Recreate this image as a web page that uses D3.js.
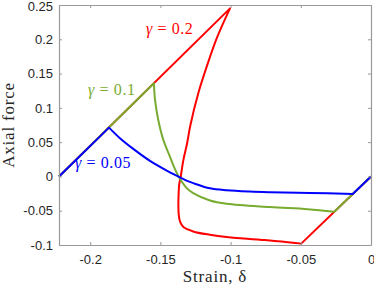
<!DOCTYPE html>
<html>
<head>
<meta charset="utf-8">
<script src="https://cdn.jsdelivr.net/npm/d3@7"></script>
<style>
body { margin: 0; background: #fff; }
svg { display: block; }
</style>
</head>
<body>
<svg id="chart" width="374" height="288"></svg>
<script>
// ---- data ----
const xTicks = [-0.2, -0.15, -0.1, -0.05, 0];
const xTickLabels = ["-0.2", "-0.15", "-0.1", "-0.05", "0"];
const yTicks = [-0.1, -0.05, 0, 0.05, 0.1, 0.15, 0.2, 0.25];
const yTickLabels = ["-0.1", "-0.05", "0", "0.05", "0.1", "0.15", "0.2", "0.25"];

const gammaNames = ["γ = 0.2", "γ = 0.1", "γ = 0.05"];

// each path: (0,0) -> elastic junction -> softening curve -> upper line junction -> back to zero force
const redStrain = [0, -0.0497, -0.0719, -0.0791, -0.1028, -0.1147, -0.1266, -0.1336, -0.1360, -0.1369, -0.1372, -0.1370, -0.1366, -0.1355, -0.1336, -0.1310, -0.1287, -0.1230, -0.1170, -0.1099, -0.1004, -0.2222];
const redForce  = [0, -0.0980, -0.0934, -0.0923, -0.0884, -0.0851, -0.0802, -0.0738, -0.0660, -0.0560, -0.0400, -0.0250, -0.0120, -0.0001, 0.0242, 0.0480, 0.0740, 0.1213, 0.1601, 0.2014, 0.2451, 0];

const greenStrain = [0, -0.0262, -0.0450, -0.0719, -0.1028, -0.1147, -0.1266, -0.1313, -0.1368, -0.1403, -0.1432, -0.1479, -0.1515, -0.1538, -0.1546, -0.2222];
const greenForce  = [0, -0.0514, -0.0478, -0.0447, -0.0399, -0.0351, -0.0243, -0.0170, -0.0010, 0.0140, 0.0290, 0.0533, 0.0824, 0.1116, 0.1359, 0];

const blueStrain = [0, -0.0130, -0.0435, -0.0719, -0.0862, -0.1028, -0.1147, -0.1266, -0.1318, -0.1368, -0.1455, -0.1574, -0.1693, -0.1788, -0.1866, -0.2222];
const blueForce  = [0, -0.0255, -0.0241, -0.0230, -0.0221, -0.0202, -0.0173, -0.0098, -0.0057, -0.0005, 0.0086, 0.0227, 0.0402, 0.0558, 0.0712, 0];

const labelStrain = [-0.1603, -0.2015, -0.2108];
const labelForce  = [0.2077, 0.1188, 0.0125];
const seriesColors = ["#ff0000", "#77ac30", "#0000ff"];

// ---- layout ----
const W = 374, H = 288;
const margin = {left: 59, right: 3, top: 5, bottom: 43};
const svg = d3.select("#chart");
const x = d3.scaleLinear().domain([-0.2222, 0]).range([margin.left, W - margin.right]);
const y = d3.scaleLinear().domain([-0.1, 0.25]).range([H - margin.bottom, margin.top]);

const axisColor = "#9a9a9a";
const textColor = "#262626";
const tickFont = "'Liberation Sans', Arial, sans-serif";
const serif = "'Liberation Serif', 'Times New Roman', serif";

// series
const series = [
  {xs: redStrain, ys: redForce},
  {xs: greenStrain, ys: greenForce},
  {xs: blueStrain, ys: blueForce}
];
const straight = d3.line().x(d => x(d[0])).y(d => y(d[1]));
const smooth = d3.line().x(d => x(d[0])).y(d => y(d[1])).curve(d3.curveCatmullRom.alpha(0.5));
const plot = svg.append("g");
series.forEach((s, i) => {
  const pts = d3.zip(s.xs, s.ys);
  const n = pts.length;
  const d = straight(pts.slice(0, 2)) +
            smooth(pts.slice(1, n - 1)).replace(/^M/, "L") +
            straight(pts.slice(n - 2)).replace(/^M/, "L");
  plot.append("path")
    .attr("d", d)
    .attr("fill", "none")
    .attr("stroke", seriesColors[i])
    .attr("stroke-width", 2)
    .attr("stroke-linejoin", "round");
});

// axes (box with inward ticks)
function styleAxis(g) {
  g.selectAll("path.domain").attr("stroke", axisColor).attr("stroke-width", 1.2);
  g.selectAll(".tick line").attr("stroke", axisColor).attr("stroke-width", 1);
  g.selectAll(".tick text").attr("fill", textColor).style("font-family", tickFont).style("font-size", "13px");
}
const xb = svg.append("g").attr("transform", `translate(0,${H - margin.bottom})`)
  .call(d3.axisBottom(x).tickValues(xTicks).tickFormat((d, i) => xTickLabels[i]).tickSizeInner(-3).tickSizeOuter(0).tickPadding(10));
styleAxis(xb);
const xt = svg.append("g").attr("transform", `translate(0,${margin.top})`)
  .call(d3.axisTop(x).tickValues(xTicks).tickFormat("").tickSizeInner(-3).tickSizeOuter(0));
styleAxis(xt);
const yl = svg.append("g").attr("transform", `translate(${margin.left},0)`)
  .call(d3.axisLeft(y).tickValues(yTicks).tickFormat((d, i) => yTickLabels[i]).tickSizeInner(-3).tickSizeOuter(0).tickPadding(6));
styleAxis(yl);
// keep the topmost tick label inside the picture
yl.selectAll(".tick text").filter(d => d === d3.max(yTicks)).attr("dy", "0.45em");
const yr = svg.append("g").attr("transform", `translate(${W - margin.right},0)`)
  .call(d3.axisRight(y).tickValues(yTicks).tickFormat("").tickSizeInner(-3).tickSizeOuter(0));
styleAxis(yr);

// axis labels
svg.append("text")
  .attr("x", (margin.left + W - margin.right) / 2)
  .attr("y", 282)
  .attr("text-anchor", "middle")
  .attr("fill", textColor)
  .style("font-family", serif).style("font-size", "17px").style("letter-spacing", "0.8px")
  .text("Strain, δ");
svg.append("text")
  .attr("transform", `translate(14,${(margin.top + H - margin.bottom) / 2}) rotate(-90)`)
  .attr("text-anchor", "middle")
  .attr("fill", textColor)
  .style("font-family", serif).style("font-size", "17px").style("letter-spacing", "0.8px")
  .text("Axial force");

// series labels (italic gamma like LaTeX math)
gammaNames.forEach((t, i) => {
  const tx = svg.append("text")
    .attr("x", x(labelStrain[i]))
    .attr("y", y(labelForce[i]))
    .attr("fill", seriesColors[i])
    .style("font-family", serif).style("font-size", "16px").style("letter-spacing", "0.6px");
  tx.append("tspan").style("font-style", "italic").text(t.slice(0, 1));
  tx.append("tspan").text(t.slice(1));
});
</script>
</body>
</html>
